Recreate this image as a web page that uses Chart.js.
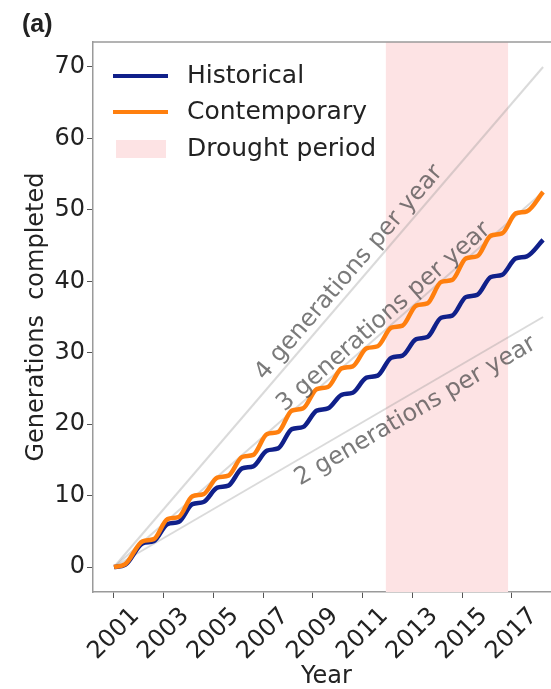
<!DOCTYPE html>
<html>
<head>
<meta charset="utf-8">
<script src="https://cdn.jsdelivr.net/npm/chart.js@4"></script>
<style>
  body { margin: 0; overflow: hidden; background: #fff; }
</style>
</head>
<body>
<canvas id="gen-chart" width="560" height="689"></canvas>
<script>
// sample times (decimal years)
const years = [2001.0, 2001.45, 2002.15, 2002.6, 2003.15, 2003.6, 2004.15, 2004.6, 2005.15, 2005.6,
    2006.15, 2006.6, 2007.15, 2007.6, 2008.15, 2008.6, 2009.15, 2009.6, 2010.15, 2010.6,
    2011.15, 2011.6, 2012.15, 2012.6, 2013.15, 2013.6, 2014.15, 2014.6, 2015.15, 2015.6,
    2016.15, 2016.6, 2017.15, 2017.6, 2018.25];
const historical = [0, 0.3, 3.3, 3.6, 6.0, 6.3, 8.8, 9.1, 11.1, 11.4,
    13.8, 14.1, 16.3, 16.6, 19.3, 19.6, 21.9, 22.2, 24.1, 24.4,
    26.5, 26.8, 29.3, 29.6, 31.9, 32.2, 34.9, 35.2, 37.8, 38.1,
    40.6, 40.9, 43.2, 43.5, 45.8];
const contemporary = [0, 0.4, 3.6, 3.9, 6.7, 7.0, 9.9, 10.2, 12.5, 12.8,
    15.4, 15.7, 18.6, 18.9, 21.9, 22.2, 24.9, 25.2, 27.8, 28.1,
    30.6, 30.9, 33.5, 33.8, 36.6, 36.9, 39.9, 40.2, 43.2, 43.5,
    46.4, 46.7, 49.5, 49.8, 52.5];

// reference lines: 4, 3 and 2 generations per year
const guideYears = [2001, 2018.25];
const guideEnds = [70, 52.5, 35];
const guideLabels = ['4 generations per year', '3 generations per year', '2 generations per year'];

const droughtPeriod = [2011.92, 2016.85];

const xTicks = [2001, 2003, 2005, 2007, 2009, 2011, 2013, 2015, 2017];
const yTicks = [0, 10, 20, 30, 40, 50, 60, 70];

const X_MIN = 2000.156, X_MAX = 2018.93;
const Y_MIN = -3.5, Y_MAX = 73.5;

Chart.defaults.font.family = 'DejaVu Sans';
Chart.defaults.color = '#222';

const spineColor = '#9a9a9a';

const guideSets = guideEnds.map(end => ({
    label: 'guide',
    data: [{x: guideYears[0], y: 0}, {x: guideYears[1], y: end}],
    borderColor: 'rgba(150,150,150,0.35)',
    borderWidth: 2,
    pointRadius: 0,
    fill: false,
    order: 3
}));

const decorPlugin = {
    id: 'decor',
    afterDatasetsDraw(chart) {
        const {ctx, scales: {x, y}} = chart;
        // guide line labels, rotated along each guide line
        const pos = [[2010.45, 41.2], [2011.85, 35.0], [2013.12, 21.8]];
        ctx.save();
        ctx.font = '24px "DejaVu Sans"';
        ctx.fillStyle = 'rgba(70,70,70,0.72)';
        ctx.textAlign = 'center';
        ctx.textBaseline = 'middle';
        guideEnds.forEach((end, i) => {
            const dx = x.getPixelForValue(guideYears[1]) - x.getPixelForValue(guideYears[0]);
            const dy = y.getPixelForValue(end) - y.getPixelForValue(0);
            ctx.save();
            ctx.translate(x.getPixelForValue(pos[i][0]), y.getPixelForValue(pos[i][1]));
            ctx.rotate(Math.atan2(dy, dx));
            ctx.fillText(guideLabels[i], 0, 0);
            ctx.restore();
        });
        ctx.restore();
    },
    afterDraw(chart) {
        const {ctx, chartArea, scales: {x}} = chart;
        ctx.save();
        // top spine
        ctx.strokeStyle = spineColor;
        ctx.lineWidth = 1.5;
        ctx.beginPath();
        ctx.moveTo(chartArea.left, chartArea.top);
        ctx.lineTo(chartArea.right, chartArea.top);
        ctx.stroke();

        // rotated x tick labels, centred under the tick
        ctx.font = '24px "DejaVu Sans"';
        ctx.fillStyle = '#222';
        ctx.textAlign = 'center';
        ctx.textBaseline = 'middle';
        xTicks.forEach(v => {
            ctx.save();
            ctx.translate(x.getPixelForValue(v), chartArea.bottom + 42);
            ctx.rotate(-Math.PI / 4);
            ctx.fillText(String(v), 0, 0);
            ctx.restore();
        });

        // panel tag
        ctx.font = 'bold 25px "Liberation Sans"';
        ctx.textAlign = 'left';
        ctx.fillText('(a)', 22, 25);

        // legend
        const ds = chart.data.datasets;
        const items = [
            {text: 'Historical', color: ds[1].borderColor, type: 'line', y: 76},
            {text: 'Contemporary', color: ds[2].borderColor, type: 'line', y: 112},
            {text: 'Drought period', color: ds[0].backgroundColor, type: 'box', y: 149}
        ];
        items.forEach(it => {
            if (it.type === 'line') {
                ctx.strokeStyle = it.color;
                ctx.lineWidth = 4;
                ctx.beginPath();
                ctx.moveTo(113, it.y);
                ctx.lineTo(168, it.y);
                ctx.stroke();
            } else {
                ctx.fillStyle = it.color;
                ctx.fillRect(116, it.y - 9, 50, 18);
            }
            ctx.fillStyle = '#222';
            ctx.font = '25px "DejaVu Sans"';
            ctx.fillText(it.text, 187, it.y);
        });
        ctx.restore();
    }
};

new Chart(document.getElementById('gen-chart'), {
    type: 'line',
    data: {
        datasets: [{
            label: 'Drought period',
            data: [{x: droughtPeriod[0], y: Y_MAX}, {x: droughtPeriod[1], y: Y_MAX}],
            backgroundColor: '#fde3e4',
            borderWidth: 0,
            pointRadius: 0,
            fill: 'start',
            order: 5
        }, {
            label: 'Historical',
            data: years.map((v, i) => ({x: v, y: historical[i]})),
            borderColor: '#10208a',
            borderWidth: 4.5,
            pointRadius: 0,
            cubicInterpolationMode: 'monotone',
            fill: false,
            order: 1
        }, {
            label: 'Contemporary',
            data: years.map((v, i) => ({x: v, y: contemporary[i]})),
            borderColor: '#ff7f0e',
            borderWidth: 4.5,
            pointRadius: 0,
            cubicInterpolationMode: 'monotone',
            fill: false,
            order: 0
        }, ...guideSets]
    },
    options: {
        responsive: false,
        animation: false,
        layout: {padding: {top: 42, left: 0, right: 0, bottom: 0}},
        plugins: {
            legend: {display: false},
            tooltip: {enabled: false}
        },
        scales: {
            x: {
                type: 'linear',
                min: X_MIN,
                max: X_MAX,
                afterBuildTicks: scale => { scale.ticks = xTicks.map(v => ({value: v})); },
                afterFit: scale => { scale.height = 97; },
                ticks: {display: false},
                grid: {drawOnChartArea: false, drawTicks: true, tickLength: 6, color: '#555'},
                border: {color: spineColor, width: 1.5},
                title: {
                    display: true,
                    text: 'Year',
                    font: {size: 24, lineHeight: 1},
                    padding: {top: 0, bottom: 0},
                    color: '#222'
                }
            },
            y: {
                min: Y_MIN,
                max: Y_MAX,
                afterBuildTicks: scale => { scale.ticks = yTicks.map(v => ({value: v})); },
                afterFit: scale => { scale.width = 93; },
                ticks: {font: {size: 24}, padding: 2, color: '#222'},
                grid: {drawOnChartArea: false, drawTicks: true, tickLength: 6, color: '#555'},
                border: {color: spineColor, width: 1.5},
                title: {
                    display: true,
                    text: 'Generations  completed',
                    font: {size: 24, lineHeight: 1},
                    padding: {top: 25, bottom: 0},
                    color: '#222'
                }
            }
        }
    },
    plugins: [decorPlugin]
});
</script>
</body>
</html>
